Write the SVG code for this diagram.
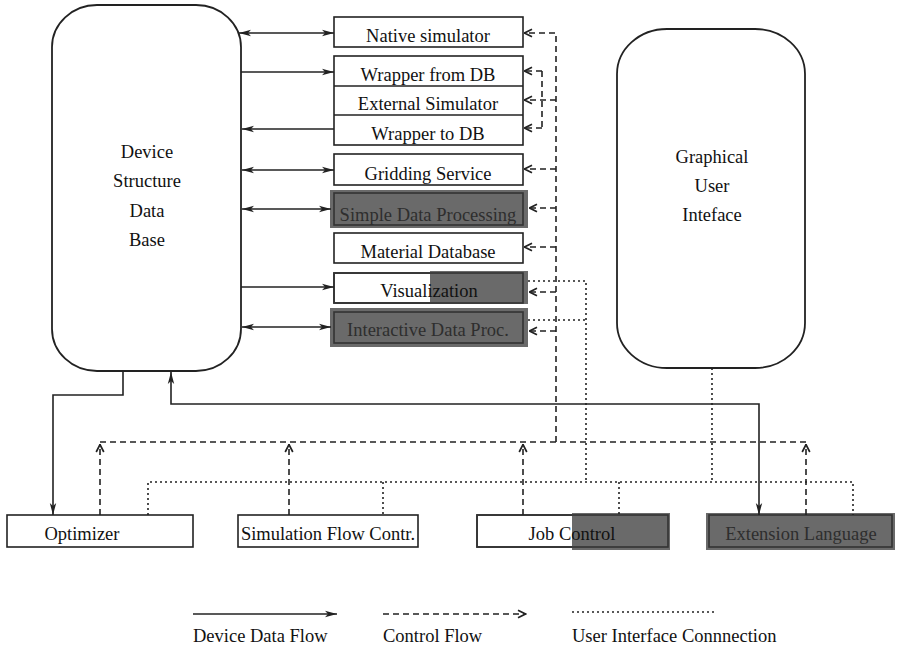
<svg xmlns="http://www.w3.org/2000/svg" width="900" height="650" viewBox="0 0 900 650">
<style>
text{font-family:"Liberation Serif","Times New Roman",serif;font-size:18.5px;fill:#111;text-anchor:middle}
.lt{text-anchor:start}
.box{fill:#fff;stroke:#222;stroke-width:1.6}
.big{fill:#fff;stroke:#222;stroke-width:1.8}
.dark{fill:#6a6a6a;stroke:none}
.dk{fill:none;stroke:#333;stroke-width:1.6}
.dt{fill:#2e2e2e}
.s{fill:none;stroke:#222;stroke-width:1.6}
.d{fill:none;stroke:#222;stroke-width:1.6;stroke-dasharray:6 4}
.o{fill:none;stroke:#222;stroke-width:1.6;stroke-dasharray:2 3}
</style>
<defs>
<marker id="sa" viewBox="0 0 12 8" refX="12" refY="4" markerWidth="12" markerHeight="8" orient="auto-start-reverse" markerUnits="userSpaceOnUse"><path d="M0,0.8 L12,4 L0,7.2 L3,4 Z" fill="#222"/></marker>
<marker id="da" viewBox="0 0 10 10" refX="9.5" refY="5" markerWidth="10" markerHeight="10" orient="auto" markerUnits="userSpaceOnUse"><path d="M1.5,1.2 L9,5 L1.5,8.8" fill="none" stroke="#222" stroke-width="1.7"/></marker>
</defs>

<g id="dsdb">
<rect class="big" x="52" y="5" width="189" height="366" rx="45" ry="42"/>
<text x="147" y="158">Device</text>
<text x="147" y="187">Structure</text>
<text x="147" y="217">Data</text>
<text x="147" y="246">Base</text>
</g>

<g id="gui">
<rect class="big" x="617" y="29" width="188" height="339" rx="50" ry="45"/>
<text x="712" y="163">Graphical</text>
<text x="712" y="192">User</text>
<text x="712" y="221">Inteface</text>
</g>

<g id="native-simulator">
<rect class="box" x="334" y="17" width="189" height="30"/>
<text x="428" y="42">Native simulator</text>
</g>

<g id="external-simulator-group">
<rect class="box" x="334" y="56" width="189" height="89"/>
<line x1="334" y1="86" x2="523" y2="86" stroke="#222" stroke-width="1.6"/>
<line x1="334" y1="115" x2="523" y2="115" stroke="#222" stroke-width="1.6"/>
<text x="428" y="81">Wrapper from DB</text>
<text x="428" y="110">External Simulator</text>
<text x="428" y="140">Wrapper to DB</text>
</g>

<g id="gridding-service">
<rect class="box" x="334" y="154" width="189" height="31"/>
<text x="428" y="180">Gridding Service</text>
</g>

<g id="simple-data-processing">
<rect class="dark" x="330" y="190" width="198" height="38"/>
<rect class="dk" x="334" y="193" width="189" height="32"/>
<text class="dt" x="428" y="221">Simple Data Processing</text>
</g>

<g id="material-database">
<rect class="box" x="334" y="233" width="189" height="30"/>
<text x="428" y="258">Material Database</text>
</g>

<g id="visualization">
<rect class="box" x="334" y="273" width="189" height="30"/>
<rect class="dark" x="430" y="271" width="98" height="33"/>
<rect class="dk" x="334" y="273" width="189" height="30"/>
<text x="429" y="297">Visualization</text>
</g>

<g id="interactive-data-proc">
<rect class="dark" x="330" y="308" width="198" height="39"/>
<rect class="dk" x="334" y="312" width="189" height="31"/>
<text class="dt" x="428" y="336">Interactive Data Proc.</text>
</g>

<g id="optimizer">
<rect class="box" x="7" y="515" width="186" height="32"/>
<text x="82" y="540">Optimizer</text>
</g>

<g id="simulation-flow-contr">
<rect class="box" x="238" y="515" width="180" height="32"/>
<text x="328" y="540">Simulation Flow Contr.</text>
</g>

<g id="job-control">
<rect class="box" x="477" y="515" width="191" height="32"/>
<rect class="dark" x="572" y="513" width="98" height="37"/>
<rect class="dk" x="477" y="515" width="191" height="32"/>
<text x="572" y="540">Job Control</text>
</g>

<g id="extension-language">
<rect class="dark" x="706" y="513" width="189" height="37"/>
<rect class="dk" x="709" y="515" width="183" height="32"/>
<text class="dt" x="801" y="540">Extension Language</text>
</g>

<g id="connectors">
<!-- device data flow -->
<line class="s" x1="239" y1="33" x2="334" y2="33" marker-start="url(#sa)" marker-end="url(#sa)"/>
<line class="s" x1="241" y1="72" x2="334" y2="72" marker-end="url(#sa)"/>
<line class="s" x1="334" y1="129" x2="242" y2="129" marker-end="url(#sa)"/>
<line class="s" x1="242" y1="170" x2="334" y2="170" marker-start="url(#sa)" marker-end="url(#sa)"/>
<line class="s" x1="242" y1="209" x2="331" y2="209" marker-start="url(#sa)" marker-end="url(#sa)"/>
<line class="s" x1="241" y1="287" x2="334" y2="287" marker-end="url(#sa)"/>
<line class="s" x1="242" y1="327" x2="331" y2="327" marker-start="url(#sa)" marker-end="url(#sa)"/>
<path class="s" d="M123,371 V395 H53 V515" marker-end="url(#sa)"/>
<path class="s" d="M171,372 V404 H759 V515" marker-start="url(#sa)" marker-end="url(#sa)"/>

<!-- control flow -->
<path class="d" d="M556,442 V33 H524" marker-end="url(#da)"/>
<path class="d" d="M542,71 H524" marker-end="url(#da)"/>
<path class="d" d="M542,71 V128"/>
<path class="d" d="M556,100 H524" marker-end="url(#da)"/>
<path class="d" d="M542,128 H524" marker-end="url(#da)"/>
<path class="d" d="M556,169 H524" marker-end="url(#da)"/>
<path class="d" d="M556,208 H529" marker-end="url(#da)"/>
<path class="d" d="M556,247 H524" marker-end="url(#da)"/>
<path class="d" d="M556,292 H529" marker-end="url(#da)"/>
<path class="d" d="M556,331 H529" marker-end="url(#da)"/>
<path class="d" d="M100,442 H806"/>
<path class="d" d="M100,515 V444" marker-end="url(#da)"/>
<path class="d" d="M289,515 V444" marker-end="url(#da)"/>
<path class="d" d="M523,515 V444" marker-end="url(#da)"/>
<path class="d" d="M806,515 V444" marker-end="url(#da)"/>

<!-- user interface connection -->
<path class="o" d="M148,515 V482 H853 V515"/>
<path class="o" d="M383,482 V515"/>
<path class="o" d="M619,482 V515"/>
<path class="o" d="M528,281 H586 V482"/>
<path class="o" d="M528,320 H586"/>
<path class="o" d="M712,368 V482"/>
</g>

<g id="legend">
<line class="s" x1="193" y1="614" x2="337" y2="614" marker-end="url(#sa)"/>
<line class="d" x1="383" y1="614" x2="526" y2="614" marker-end="url(#da)"/>
<line class="o" x1="572" y1="612" x2="715" y2="612"/>
<text class="lt" x="193" y="642">Device Data Flow</text>
<text class="lt" x="383" y="642">Control Flow</text>
<text class="lt" x="572" y="642">User Interface Connnection</text>
</g>
</svg>
